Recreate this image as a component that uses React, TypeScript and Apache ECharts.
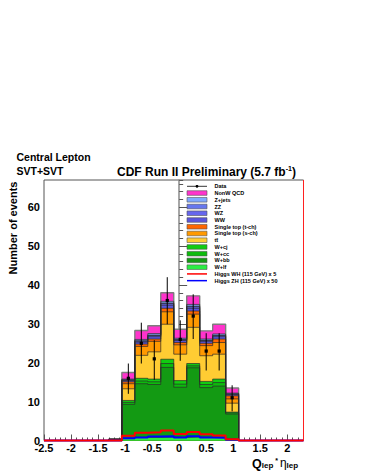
import React, { useEffect, useRef } from "react";
import * as echarts from "echarts";

// ---- axis ranges ----
const X_MIN = -2.5;
const X_MAX = 2.3;
const Y_MAX = 67;

// ---- histogram binning (10 filled bins, width 0.24) ----
const BIN_EDGES = [-1.3, -1.06, -0.82, -0.58, -0.34, -0.1, 0.14, 0.38, 0.62, 0.86, 1.1];

// ---- stacked background components (bottom to top) ----
const W_LF = [0, 0.5, 0.8, 0.8, 0.9, 0.8, 0.9, 0.8, 0.8, 0.5];
const W_BB = [0.3, 8.8, 13.8, 13.6, 17.9, 12.9, 17.8, 12.8, 13.2, 6.3];
const W_CC = [0, 0.5, 0.7, 0.7, 1.0, 0.8, 0.5, 0.8, 0.9, 0.3];
const W_CJ = [0, 0.5, 0.7, 0.7, 1.1, 0.9, 0.6, 0.8, 0.9, 0.2];
const TTBAR = [0, 3.0, 5.9, 7.0, 9.0, 6.8, 9.3, 6.6, 6.4, 2.3];
const STOP_S = [0, 1.3, 2.3, 2.7, 3.2, 2.4, 3.4, 2.6, 3.0, 1.1];
const STOP_T = [0, 0.5, 0.6, 0.6, 0.9, 0.6, 0.8, 0.6, 0.9, 0.8];
const WW = [0, 0.3, 0.5, 0.6, 0.8, 0.5, 0.7, 0.5, 0.6, 0.3];
const WZ = [0, 0.15, 0.25, 0.3, 0.4, 0.2, 0.4, 0.2, 0.25, 0.15];
const ZZ = [0, 0.05, 0.1, 0.1, 0.15, 0.1, 0.15, 0.1, 0.1, 0.05];
const ZJETS = [0, 0.2, 0.35, 0.4, 0.45, 0.3, 0.45, 0.3, 0.35, 0.2];
const QCD = [0, 1.7, 2.3, 2.0, 2.2, 2.3, 2.2, 2.1, 2.5, 1.3];

// ---- Higgs signal templates ----
const HIGGS_WH = [0, 1.2, 2.0, 2.1, 2.6, 1.7, 2.2, 1.6, 1.3, 0.3];
const HIGGS_ZH = [0, 0.6, 0.8, 1.0, 1.1, 0.8, 1.1, 0.8, 0.7, 0.2];

// ---- data points ----
const DATA_X = [-0.94, -0.7, -0.46, -0.22, 0.02, 0.26, 0.5, 0.74, 0.98];
const DATA_Y = [16, 25, 21, 36, 26, 32, 23, 23, 11];
const DATA_LO = [12.0, 19.8, 15.6, 29.9, 20.5, 26.1, 18.0, 18.0, 7.5];
const DATA_HI = [19.8, 30.3, 25.8, 42.0, 30.9, 37.6, 27.6, 27.6, 14.2];

const STACK = [
  { name: "W+lf", color: "#2aee44", values: W_LF },
  { name: "W+bb", color: "#139a13", values: W_BB },
  { name: "W+cc", color: "#0cbb0c", values: W_CC },
  { name: "W+cj", color: "#11cc11", values: W_CJ },
  { name: "tt\u0304", color: "#ffcc33", values: TTBAR },
  { name: "Single top (s-ch)", color: "#ff9900", values: STOP_S },
  { name: "Single top (t-ch)", color: "#ff6600", values: STOP_T },
  { name: "WW", color: "#5a55dd", values: WW },
  { name: "WZ", color: "#6666ee", values: WZ },
  { name: "ZZ", color: "#6677ee", values: ZZ },
  { name: "Z+jets", color: "#80aaff", values: ZJETS },
  { name: "NonW QCD", color: "#ff33cc", values: QCD },
];

const FONT = "'Liberation Sans', Arial, Helvetica, sans-serif";

export default function App() {
  const ref = useRef<HTMLDivElement>(null);

  useEffect(() => {
    document.body.style.margin = "0";
    if (!ref.current) return;
    const chart = echarts.init(ref.current, undefined, { renderer: "svg" });

    const nBins = BIN_EDGES.length - 1;
    const cum: number[][] = [];
    let running = new Array(nBins).fill(0);
    STACK.forEach((c) => {
      running = running.map((v: number, i: number) => v + c.values[i]);
      cum.push(running);
    });

    const topIdx = STACK.length - 1;
    const stackSeries = STACK.map((c, j) => ({
      type: "line",
      name: c.name,
      step: "start",
      symbol: "none",
      silent: true,
      data: [
        [BIN_EDGES[0], 0],
        ...cum[j].map((v, i) => [BIN_EDGES[i + 1], v]),
        [BIN_EDGES[nBins], 0],
      ],
      lineStyle: {
        color: j === topIdx ? "#7d7d7d" : "#2b2b2b",
        width: j === topIdx ? 1.4 : 0.7,
      },
      areaStyle: { color: c.color, opacity: 1 },
    })).reverse();

    const higgs = (vals: number[], color: string, name: string) => ({
      type: "line",
      name,
      step: "start",
      symbol: "none",
      silent: true,
      clip: false,
      data: [
        [X_MIN, 0],
        [BIN_EDGES[0], 0],
        ...vals.map((v, i) => [BIN_EDGES[i + 1], v]),
        [X_MAX, 0],
      ],
      lineStyle: { color, width: 2 },
      z: 5,
    });

    const legendEntries: { name: string; kind: string; color: string }[] = [
      { name: "Data", kind: "data", color: "#000" },
      ...STACK.slice().reverse().map((c) => ({ name: c.name, kind: "box", color: c.color })),
      { name: "Higgs WH (115 GeV) x 5", kind: "line", color: "#ff0000" },
      { name: "Higgs ZH (115 GeV) x 50", kind: "line", color: "#0000ff" },
    ];

    const legendGraphics: any[] = [];
    legendEntries.forEach((e, i) => {
      const y = 186.3 + i * 6.74;
      if (e.kind === "box") {
        legendGraphics.push({
          type: "rect",
          shape: { x: 187, y: y - 2.3, width: 20, height: 4.6 },
          style: { fill: e.color, stroke: "#555", lineWidth: 0.6 },
        });
      } else if (e.kind === "line") {
        legendGraphics.push({
          type: "line",
          shape: { x1: 187, y1: y, x2: 207, y2: y },
          style: { stroke: e.color, lineWidth: 1.5 },
        });
      } else {
        legendGraphics.push({
          type: "line",
          shape: { x1: 187, y1: y, x2: 207, y2: y },
          style: { stroke: "#000", lineWidth: 0.8 },
        });
        legendGraphics.push({
          type: "circle",
          shape: { cx: 197, cy: y, r: 1.4 },
          style: { fill: "#000" },
        });
      }
      legendGraphics.push({
        type: "text",
        x: 214.5,
        y,
        style: {
          text: e.name,
          fontSize: 5.5,
          fontWeight: "bold",
          fontFamily: FONT,
          fill: "#000",
          verticalAlign: "middle",
          align: "left",
        },
      });
    });

    const axisLabelStyle = {
      fontSize: 11,
      fontWeight: "bold",
      fontFamily: FONT,
      color: "#000",
    };

    chart.setOption({
      animation: false,
      backgroundColor: "#fff",
      grid: {
        left: 44,
        right: 61.5,
        top: 180,
        bottom: 32.5,
        show: true,
        borderColor: "#555",
        borderWidth: 1,
        backgroundColor: "transparent",
      },
      xAxis: [
        {
          type: "value",
          min: X_MIN,
          max: X_MAX,
          interval: 0.5,
          axisLine: { show: false },
          axisTick: { show: true, inside: true, length: 6, lineStyle: { color: "#555", width: 1 } },
          axisLabel: { ...axisLabelStyle, margin: 2, showMaxLabel: false },
          splitLine: { show: false },
        },
        {
          type: "value",
          min: X_MIN,
          max: X_MAX,
          interval: 0.1,
          position: "bottom",
          axisLine: { show: false },
          axisTick: { show: true, inside: true, length: 3, lineStyle: { color: "#555", width: 1 } },
          axisLabel: { show: false },
          splitLine: { show: false },
        },
      ],
      yAxis: [
        {
          type: "value",
          min: 0,
          max: Y_MAX,
          interval: 10,
          axisLine: { show: true, lineStyle: { color: "#888", width: 1.5 } },
          axisTick: { show: true, inside: true, length: 8, lineStyle: { color: "#555", width: 1 } },
          axisLabel: { ...axisLabelStyle, margin: 4, showMaxLabel: false },
          splitLine: { show: false },
        },
        {
          type: "value",
          min: 0,
          max: Y_MAX,
          interval: 2,
          position: "left",
          axisLine: { show: false },
          axisTick: { show: true, inside: true, length: 4, lineStyle: { color: "#555", width: 1 } },
          axisLabel: { show: false },
          splitLine: { show: false },
        },
      ],
      series: [
        ...stackSeries,
        higgs(HIGGS_ZH, "#0000ff", "Higgs ZH (115 GeV) x 50"),
        higgs(HIGGS_WH, "#ff0000", "Higgs WH (115 GeV) x 5"),
        {
          type: "custom",
          name: "Data",
          z: 10,
          data: DATA_Y.map((y, i) => [DATA_X[i], y, DATA_LO[i], DATA_HI[i]]),
          encode: { x: 0, y: [1, 2, 3] },
          renderItem: (_params: any, api: any) => {
            const p = api.coord([api.value(0), api.value(1)]);
            const lo = api.coord([api.value(0), api.value(2)]);
            const hi = api.coord([api.value(0), api.value(3)]);
            return {
              type: "group",
              children: [
                {
                  type: "line",
                  shape: { x1: lo[0], y1: lo[1], x2: hi[0], y2: hi[1] },
                  style: { stroke: "#000", lineWidth: 1 },
                },
                {
                  type: "rect",
                  shape: { x: p[0] - 1.6, y: p[1] - 1.6, width: 3.2, height: 3.2 },
                  style: { fill: "#000" },
                },
              ],
            };
          },
        },
      ],
      graphic: [
        {
          type: "line",
          shape: { x1: 303.5, y1: 180, x2: 303.5, y2: 440.5 },
          style: { stroke: "#ff2020", lineWidth: 1 },
          z: 20,
        },
        {
          type: "text",
          x: 16.5,
          y: 157,
          style: {
            text: "Central Lepton",
            fontSize: 10.5,
            fontWeight: "bold",
            fontFamily: FONT,
            fill: "#000",
            verticalAlign: "middle",
          },
        },
        {
          type: "text",
          x: 16.5,
          y: 171,
          style: {
            text: "SVT+SVT",
            fontSize: 10.5,
            fontWeight: "bold",
            fontFamily: FONT,
            fill: "#000",
            verticalAlign: "middle",
          },
        },
        {
          type: "text",
          x: 117,
          y: 171.5,
          style: {
            text: "{a|CDF Run II Preliminary (5.7 fb}{s|-1}{a|)}",
            fill: "#000",
            verticalAlign: "middle",
            rich: {
              a: { fontSize: 12, fontWeight: "bold", fontFamily: FONT, lineHeight: 14 },
              s: { fontSize: 7, fontWeight: "bold", fontFamily: FONT, lineHeight: 8, verticalAlign: "top" },
            },
          },
        },
        {
          type: "text",
          x: 12.5,
          y: 228,
          rotation: Math.PI / 2,
          style: {
            text: "Number of events",
            fontSize: 11,
            fontWeight: "bold",
            fontFamily: FONT,
            fill: "#000",
            align: "center",
            verticalAlign: "middle",
          },
        },
        {
          type: "text",
          x: 252,
          y: 463,
          style: {
            text: "{q|Q}{l|lep}{m| * }{e|\u03b7}{l|lep}",
            fill: "#000",
            verticalAlign: "middle",
            rich: {
              q: { fontSize: 12.5, fontWeight: "bold", fontFamily: FONT, lineHeight: 12, verticalAlign: "top" },
              l: { fontSize: 8, fontWeight: "bold", fontFamily: FONT, lineHeight: 5, verticalAlign: "bottom" },
              m: { fontSize: 7, fontWeight: "bold", fontFamily: FONT, lineHeight: 6, verticalAlign: "top" },
              e: { fontSize: 12, fontFamily: FONT, lineHeight: 12, verticalAlign: "top" },
            },
          },
        },
        ...legendGraphics,
      ],
    });

    return () => chart.dispose();
  }, []);

  return <div ref={ref} style={{ width: 365, height: 473 }} />;
}
